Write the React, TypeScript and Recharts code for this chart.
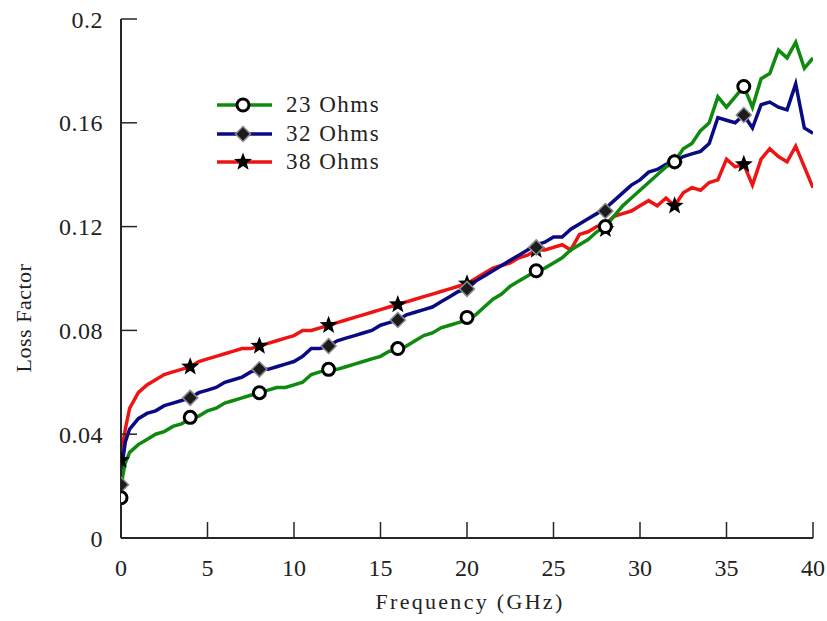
import { ComposedChart, Line, Scatter, XAxis, YAxis } from 'recharts';

const FREQ = [
  0, 0.1, 0.25, 0.5, 1, 1.5, 2, 2.5, 3, 3.5, 4, 4.5, 5, 5.5, 6, 6.5, 7, 7.5, 8, 8.5, 9, 9.5, 10,
  10.5, 11, 11.5, 12, 12.5, 13, 13.5, 14, 14.5, 15, 15.5, 16, 16.5, 17, 17.5, 18, 18.5, 19, 19.5,
  20, 20.5, 21, 21.5, 22, 22.5, 23, 23.5, 24, 24.5, 25, 25.5, 26, 26.5, 27, 27.5, 28, 28.5, 29,
  29.5, 30, 30.5, 31, 31.5, 32, 32.5, 33, 33.5, 34, 34.5, 35, 35.5, 36, 36.5, 37, 37.5, 38, 38.5,
  39, 39.5, 40,
];

const OHMS_23 = [
  0.017, 0.024, 0.029, 0.033, 0.036, 0.038, 0.04, 0.041, 0.043, 0.044, 0.046, 0.047, 0.049, 0.05,
  0.052, 0.053, 0.054, 0.055, 0.056, 0.057, 0.058, 0.058, 0.059, 0.06, 0.063, 0.064, 0.065, 0.065,
  0.066, 0.067, 0.068, 0.069, 0.07, 0.072, 0.072, 0.074, 0.076, 0.078, 0.079, 0.081, 0.082, 0.083,
  0.084, 0.086, 0.089, 0.092, 0.094, 0.097, 0.099, 0.101, 0.103, 0.104, 0.106, 0.108, 0.111, 0.113,
  0.115, 0.118, 0.12, 0.124, 0.128, 0.131, 0.134, 0.137, 0.14, 0.143, 0.145, 0.15, 0.152, 0.157,
  0.16, 0.17, 0.166, 0.17, 0.174, 0.166, 0.177, 0.179, 0.188, 0.185, 0.191, 0.181, 0.185,
];

const OHMS_32 = [
  0.021, 0.03, 0.037, 0.042, 0.046, 0.048, 0.049, 0.051, 0.052, 0.053, 0.054, 0.056, 0.057, 0.058,
  0.06, 0.061, 0.062, 0.064, 0.065, 0.065, 0.066, 0.067, 0.068, 0.07, 0.073, 0.073, 0.074, 0.076,
  0.077, 0.078, 0.079, 0.08, 0.082, 0.083, 0.084, 0.086, 0.087, 0.088, 0.089, 0.091, 0.093, 0.095,
  0.096, 0.099, 0.101, 0.103, 0.105, 0.107, 0.109, 0.111, 0.113, 0.114, 0.116, 0.116, 0.119, 0.121,
  0.123, 0.125, 0.127, 0.13, 0.133, 0.136, 0.138, 0.141, 0.142, 0.144, 0.145, 0.147, 0.148, 0.149,
  0.152, 0.162, 0.161, 0.16, 0.163, 0.158, 0.167, 0.168, 0.166, 0.165, 0.175, 0.158, 0.156,
];

const OHMS_38 = [
  0.03, 0.036, 0.042, 0.05, 0.056, 0.059, 0.061, 0.063, 0.064, 0.065, 0.066, 0.068, 0.069, 0.07,
  0.071, 0.072, 0.073, 0.073, 0.074, 0.075, 0.076, 0.077, 0.078, 0.08, 0.08, 0.081, 0.082, 0.083,
  0.084, 0.085, 0.086, 0.087, 0.088, 0.089, 0.09, 0.091, 0.092, 0.093, 0.094, 0.095, 0.096, 0.097,
  0.098, 0.1, 0.102, 0.104, 0.105, 0.106, 0.108, 0.109, 0.111, 0.111, 0.112, 0.113, 0.111, 0.117,
  0.118, 0.12, 0.121, 0.124, 0.125, 0.126, 0.128, 0.13, 0.128, 0.131, 0.128, 0.133, 0.135, 0.134,
  0.137, 0.138, 0.146, 0.143, 0.144, 0.136, 0.146, 0.15, 0.147, 0.145, 0.151, 0.143, 0.135,
];

// symbols sit every 4 GHz
const MARK_FREQ = [0, 4, 8, 12, 16, 20, 24, 28, 32, 36];
const MARK_23 = [0.0155, 0.0465, 0.056, 0.065, 0.073, 0.085, 0.103, 0.12, 0.145, 0.174];
const MARK_32 = [0.0205, 0.054, 0.065, 0.074, 0.084, 0.096, 0.112, 0.126, 0.145, 0.163];
const MARK_38 = [0.03, 0.066, 0.074, 0.082, 0.09, 0.098, 0.111, 0.119, 0.128, 0.144];

const X_TICKS = [0, 5, 10, 15, 20, 25, 30, 35, 40];
const Y_TICKS = [0, 0.04, 0.08, 0.12, 0.16, 0.2];

const GREEN = '#0f8a0f';
const BLUE = '#0a0a82';
const RED = '#ee1414';
const AXIS = '#262626';
const FONT = '"Liberation Serif", "Times New Roman", serif';

const toRows = (xs: number[], vs: number[]) => xs.map((f, i) => ({ f, v: vs[i] }));

const line23 = toRows(FREQ, OHMS_23);
const line32 = toRows(FREQ, OHMS_32);
const line38 = toRows(FREQ, OHMS_38);
const dots23 = toRows(MARK_FREQ, MARK_23);
const dots32 = toRows(MARK_FREQ, MARK_32);
const dots38 = toRows(MARK_FREQ, MARK_38);

function Circle({ cx, cy }: any) {
  return <circle cx={cx} cy={cy} r={6} fill="#fff" stroke="#000" strokeWidth={3} />;
}

function Diamond({ cx, cy }: any) {
  const r = 7.5;
  return (
    <path
      d={`M${cx},${cy - r}L${cx + r},${cy}L${cx},${cy + r}L${cx - r},${cy}Z`}
      fill="#1c1c1c"
      stroke="#8a8a8a"
      strokeWidth={1.5}
    />
  );
}

function Star({ cx, cy }: any) {
  const pts: string[] = [];
  for (let i = 0; i < 10; i++) {
    const r = i % 2 === 0 ? 9.5 : 4;
    const a = -Math.PI / 2 + (i * Math.PI) / 5;
    pts.push(`${cx + r * Math.cos(a)},${cy + r * Math.sin(a)}`);
  }
  return <polygon points={pts.join(' ')} fill="#000" />;
}

function XTick({ x, y, payload }: any) {
  return (
    <g>
      <line x1={x} y1={y} x2={x} y2={y - 16} stroke={AXIS} strokeWidth={1.5} />
      <text x={x} y={y + 38} textAnchor="middle" fontFamily={FONT} fontSize={24} fill="#222">
        {payload.value}
      </text>
    </g>
  );
}

function YTick({ x, y, payload }: any) {
  return (
    <g>
      <line x1={x} y1={y} x2={x + 16} y2={y} stroke={AXIS} strokeWidth={1.5} />
      <text x={x - 18} y={y + 8.5} textAnchor="end" fontFamily={FONT} fontSize={24} fill="#222" letterSpacing={0.5}>
        {String(payload.value)}
      </text>
    </g>
  );
}

const LEGEND = [
  { name: '23 Ohms', color: GREEN, Mark: Circle },
  { name: '32 Ohms', color: BLUE, Mark: Diamond },
  { name: '38 Ohms', color: RED, Mark: Star },
];

export default function App() {
  return (
    <div style={{ position: 'absolute', left: 0, top: 0, width: 827, height: 621, background: '#fff' }}>
      <ComposedChart width={827} height={621} margin={{ top: 19, right: 14, bottom: 0, left: 0 }}>
        <XAxis
          type="number"
          dataKey="f"
          domain={[0, 40]}
          ticks={X_TICKS}
          height={83}
          tickSize={0}
          tickMargin={0}
          tickLine={false}
          axisLine={{ stroke: AXIS, strokeWidth: 2 }}
          tick={<XTick />}
          allowDataOverflow
        />
        <XAxis
          xAxisId="top"
          orientation="top"
          type="number"
          domain={[0, 40]}
          height={0}
          tick={false}
          tickLine={false}
          axisLine={{ stroke: AXIS, strokeWidth: 2 }}
        />
        <YAxis
          type="number"
          domain={[0, 0.2]}
          ticks={Y_TICKS}
          width={121}
          tickSize={0}
          tickMargin={0}
          tickLine={false}
          axisLine={{ stroke: AXIS, strokeWidth: 2 }}
          tick={<YTick />}
          allowDataOverflow
        />
        <YAxis
          yAxisId="right"
          orientation="right"
          type="number"
          domain={[0, 0.2]}
          width={0}
          tick={false}
          tickLine={false}
          axisLine={{ stroke: AXIS, strokeWidth: 2 }}
        />
        <Line data={line38} dataKey="v" stroke={RED} strokeWidth={3.5} dot={false} type="linear" isAnimationActive={false} />
        <Line data={line32} dataKey="v" stroke={BLUE} strokeWidth={3.5} dot={false} type="linear" isAnimationActive={false} />
        <Line data={line23} dataKey="v" stroke={GREEN} strokeWidth={3.5} dot={false} type="linear" isAnimationActive={false} />
        <Scatter data={dots38} dataKey="v" shape={<Star />} isAnimationActive={false} />
        <Scatter data={dots32} dataKey="v" shape={<Diamond />} isAnimationActive={false} />
        <Scatter data={dots23} dataKey="v" shape={<Circle />} isAnimationActive={false} />
      </ComposedChart>

      <div
        style={{
          position: 'absolute',
          left: 470,
          top: 589,
          transform: 'translateX(-50%)',
          fontFamily: FONT,
          fontSize: 22,
          letterSpacing: 2.3,
          color: '#222',
          whiteSpace: 'nowrap',
          lineHeight: '26px',
        }}
      >
        Frequency (GHz)
      </div>
      <div
        style={{
          position: 'absolute',
          left: 24,
          top: 318,
          transform: 'translate(-50%, -50%) rotate(-90deg)',
          fontFamily: FONT,
          fontSize: 22,
          letterSpacing: 0.5,
          color: '#222',
          whiteSpace: 'nowrap',
          lineHeight: '26px',
        }}
      >
        Loss Factor
      </div>

      {LEGEND.map(({ name, color, Mark }, i) => (
        <div
          key={name}
          style={{ position: 'absolute', left: 214, top: 91 + i * 28.5, height: 28, display: 'flex', alignItems: 'center' }}
        >
          <svg width={62} height={28}>
            <line x1={3} y1={14} x2={58} y2={14} stroke={color} strokeWidth={3.5} />
            <Mark cx={29} cy={14} />
          </svg>
          <span style={{ marginLeft: 10, fontFamily: FONT, fontSize: 23, letterSpacing: 1.5, color: '#222', whiteSpace: 'nowrap' }}>
            {name}
          </span>
        </div>
      ))}
    </div>
  );
}
